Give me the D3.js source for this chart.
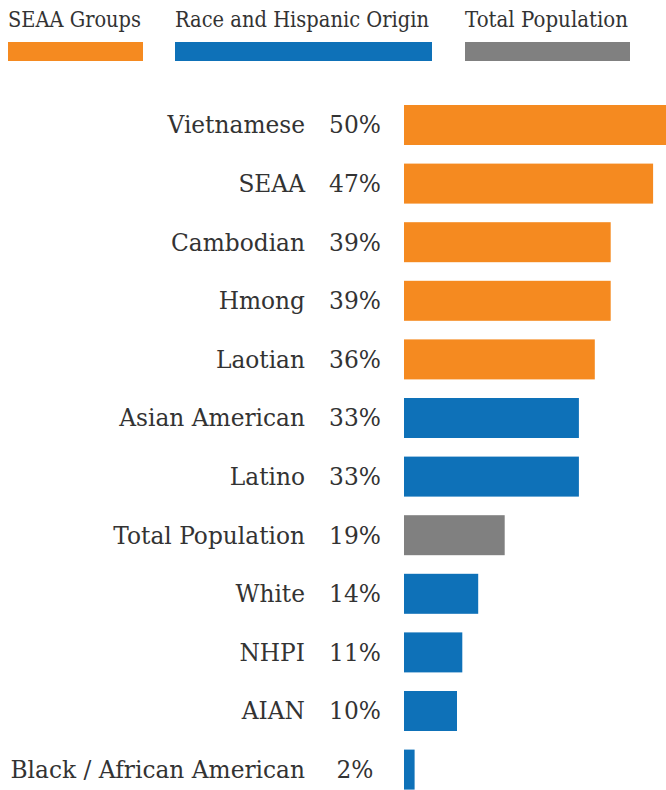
<!DOCTYPE html>
<html>
<head>
<meta charset="utf8" />
<script src="https://cdn.jsdelivr.net/npm/d3@7"></script>
<style>
  body { margin: 0; background: #fff; }
  text { font-family: "DejaVu Serif", serif; fill: #333; }
</style>
</head>
<body>
<script>
var w = 666;
var h = 790;

// data
var labels = ["Vietnamese", "SEAA", "Cambodian", "Hmong", "Laotian", "Asian American", "Latino",
              "Total Population", "White", "NHPI", "AIAN", "Black / African American"];
var values = [50, 47, 39, 39, 36, 33, 33, 19, 14, 11, 10, 2];
var groups = ["SEAA Groups", "SEAA Groups", "SEAA Groups", "SEAA Groups", "SEAA Groups",
              "Race and Hispanic Origin", "Race and Hispanic Origin", "Total Population",
              "Race and Hispanic Origin", "Race and Hispanic Origin", "Race and Hispanic Origin",
              "Race and Hispanic Origin"];
var legendNames = ["SEAA Groups", "Race and Hispanic Origin", "Total Population"];
var legendColors = ["#f58a20", "#0e71b8", "#808080"];

var color = d3.scaleOrdinal().domain(legendNames).range(legendColors);

var x = d3.scaleLinear().domain([0, 50]).range([404, 669]);
// step ~58.6px, bar height 40px
var y = d3.scaleBand().domain(labels).range([105, 105 + 58.6 * 11 + 40]).paddingInner(18.6 / 58.6).paddingOuter(0);

var svg = d3.select("body").append("svg")
    .attr("width", w)
    .attr("height", h);

// legend
var legendX = d3.scaleOrdinal().domain(legendNames).range([8, 175, 465]);
var legendW = d3.scaleOrdinal().domain(legendNames).range([135, 257, 165]);

var lg = svg.selectAll("g.legend")
    .data(legendNames)
    .enter()
    .append("g")
    .attr("class", "legend")
    .attr("transform", function(d) { return "translate(" + legendX(d) + ",0)"; });

lg.append("text")
    .attr("x", 0)
    .attr("y", 27)
    .style("font-size", "21.5px")
    .attr("textLength", function(d, i) { return [133, 254, 163][i]; })
    .attr("lengthAdjust", "spacingAndGlyphs")
    .text(function(d) { return d; });

lg.append("rect")
    .attr("y", 42)
    .attr("height", 19)
    .attr("width", function(d) { return legendW(d); })
    .attr("fill", function(d) { return color(d); });

// bars
var rows = svg.selectAll("g.row")
    .data(labels)
    .enter()
    .append("g")
    .attr("class", "row");

rows.append("rect")
    .attr("x", x(0))
    .attr("y", function(d) { return y(d); })
    .attr("height", y.bandwidth())
    .attr("width", function(d, i) { return x(values[i]) - x(0); })
    .attr("fill", function(d, i) { return color(groups[i]); });

rows.append("text")
    .attr("x", 305)
    .attr("y", function(d) { return y(d) + y.bandwidth() / 2; })
    .attr("dy", "0.36em")
    .attr("text-anchor", "end")
    .style("font-size", "23.3px")
    .text(function(d) { return d; });

rows.append("text")
    .attr("x", 355)
    .attr("y", function(d) { return y(d) + y.bandwidth() / 2; })
    .attr("dy", "0.36em")
    .attr("text-anchor", "middle")
    .style("font-size", "23.3px")
    .text(function(d, i) { return values[i] + "%"; });
</script>
</body>
</html>
